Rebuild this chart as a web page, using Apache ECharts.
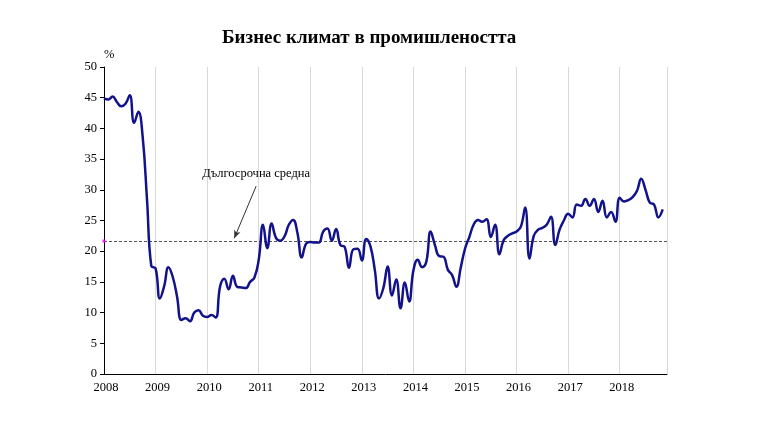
<!DOCTYPE html>
<html>
<head>
<meta charset="utf-8">
<script src="https://cdn.jsdelivr.net/npm/echarts@6/dist/echarts.min.js"></script>
<style>html,body{margin:0;padding:0;background:#fff}#c{width:768px;height:432px}</style>
</head>
<body>
<div id="c"></div>
<script>
const titleText = 'Бизнес климат в промишлеността';
const startYear = 2008;
const yearLabels = ['2008','2009','2010','2011','2012','2013','2014','2015','2016','2017','2018'];
// Monthly values, Jan 2008 .. Nov 2018 (index = month number from Jan 2008)
const values = [
  44.9,44.7,45.2,44.3,43.6,44.0,45.4,40.9,42.7,38.6,28.5,17.6,
  17.2,12.3,14.3,17.4,15.8,12.6,8.8,9.1,8.6,10.0,10.4,9.5,
  9.3,9.6,9.2,14.2,15.5,13.8,16.0,14.2,14.1,14.0,15.0,15.7,
  18.6,24.3,20.5,24.5,22.2,21.7,22.4,24.3,25.1,23.0,19.0,21.2,
  21.5,21.4,21.4,23.2,23.7,21.7,23.6,21.0,20.7,17.3,20.3,20.4,
  18.5,22.0,20.8,17.0,12.3,14.0,17.5,12.8,15.4,10.7,14.9,11.8,
  16.9,18.6,17.4,18.3,23.2,21.0,19.2,19.1,17.0,16.1,14.2,17.3,
  20.4,22.3,24.3,25.1,24.8,25.2,22.3,24.3,19.5,21.8,22.5,22.9,
  23.2,24.0,27.1,18.8,22.5,23.5,23.8,24.3,25.6,21.0,23.5,25.0,
  26.1,25.5,27.6,27.4,28.5,27.4,28.5,26.4,28.2,25.5,26.4,24.8,
  28.7,28.1,28.3,28.8,29.8,31.8,30.0,27.9,27.6,25.5,26.8
];
const longTermMean = 21.65;
const meanLabel = 'Дългосрочна средна';
const yTicks = [0,5,10,15,20,25,30,35,40,45,50];
// annotation anchor (month index, value)
const annoText = [35.4, 32.7];
const arrowFrom = [35.4, 30.6];
const arrowTo = [30.3, 22.1];

const seriesData = values.map((v, i) => [i, v]);
const serif = '"Liberation Serif", "DejaVu Serif", serif';

const chart = echarts.init(document.getElementById('c'), null, {renderer: 'canvas'});
chart.setOption({
  animation: false,
  backgroundColor: '#ffffff',
  title: {
    text: titleText,
    left: 217, top: 24,
    textStyle: {fontFamily: serif, fontSize: 19, fontWeight: 'bold', color: '#000'}
  },
  grid: {left: 104, right: 101, top: 67, bottom: 58, containLabel: false},
  xAxis: {
    type: 'value', min: 0, max: 131, interval: 12,
    axisLine: {show: true, onZero: false, lineStyle: {color: '#000', width: 1}},
    axisTick: {show: false},
    axisLabel: {
      fontFamily: serif, fontSize: 12.5, color: '#000', margin: 7,
      padding: [0, 0, 0, 4],
      formatter: v => (v % 12 === 0 && v / 12 < yearLabels.length) ? yearLabels[v / 12] : '',
      showMaxLabel: false
    },
    splitLine: {show: true, lineStyle: {color: '#d9d9d9', width: 1}}
  },
  yAxis: {
    type: 'value', min: 0, max: 50, interval: 5,
    name: '%', nameLocation: 'end', nameGap: 6,
    nameTextStyle: {fontFamily: serif, fontSize: 12.5, color: '#000', align: 'left'},
    axisLine: {show: true, lineStyle: {color: '#000', width: 1}},
    axisTick: {show: true, inside: false, length: 4, lineStyle: {color: '#000'}},
    axisLabel: {fontFamily: serif, fontSize: 12.5, color: '#000', margin: 7,
      formatter: v => yTicks.includes(v) ? String(v) : ''},
    splitLine: {show: false}
  },
  series: [
    {
      type: 'line',
      data: seriesData,
      smooth: 0.45,
      symbol: 'none',
      lineStyle: {color: '#12128a', width: 2.5},
      z: 5,
      markLine: {
        silent: true,
        symbol: ['none', 'none'],
        label: {show: false},
        lineStyle: {color: '#555', width: 1, type: [3, 2]},
        data: [{yAxis: longTermMean}]
      }
    },
    {
      type: 'scatter',
      data: [[0, longTermMean]],
      symbol: 'rect', symbolSize: 3,
      itemStyle: {color: '#ff00ff'},
      z: 6,
      markLine: {
        silent: true,
        symbol: ['none', 'arrow'],
        symbolSize: [5, 8],
        label: {show: false},
        lineStyle: {color: '#333', width: 1, type: 'solid'},
        data: [[{coord: arrowFrom}, {coord: arrowTo}]]
      },
      markPoint: {
        symbol: 'circle', symbolSize: 0,
        data: [{coord: annoText}],
        label: {show: true, formatter: meanLabel, position: 'inside',
          fontFamily: serif, fontSize: 12.5, color: '#000'}
      }
    }
  ]
});
</script>
</body>
</html>
